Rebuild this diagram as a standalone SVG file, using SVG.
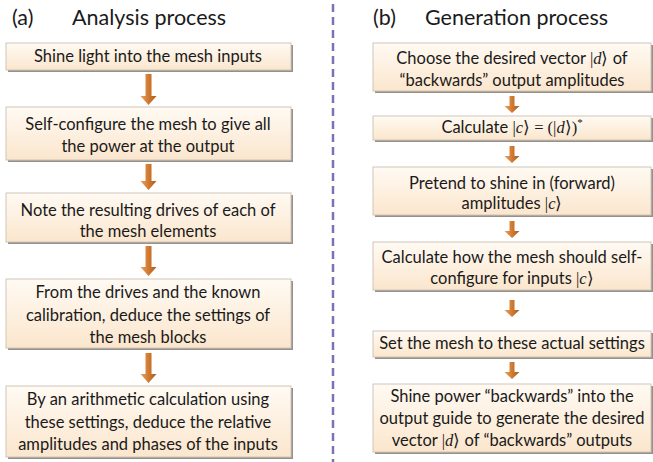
<svg xmlns="http://www.w3.org/2000/svg" width="653" height="462" viewBox="0 0 653 462">
  <defs>
    <linearGradient id="boxFill" x1="0" y1="0" x2="0" y2="1">
      <stop offset="0" stop-color="#FFFAF3"/>
      <stop offset="1" stop-color="#FBE6CD"/>
    </linearGradient>
    <linearGradient id="arrowFill" x1="0" y1="0" x2="1" y2="0">
      <stop offset="0" stop-color="#E8A060"/>
      <stop offset="0.5" stop-color="#D27A30"/>
      <stop offset="1" stop-color="#A85C1E"/>
    </linearGradient>
    <style>
      .shadow { fill: #96908A; }
      .box { fill: url(#boxFill); stroke: #CFC6BA; stroke-width: 1; }
      .t { font-family: Lato, "Open Sans", sans-serif; font-size: 16.5px; fill: #1A1A1A; text-anchor: middle; }
      .title { font-family: Lato, "Open Sans", sans-serif; font-size: 21.5px; fill: #1A1A1A; }
      .m { font-family: "Liberation Serif", serif; }
      .i { font-family: "Liberation Serif", serif; font-style: italic; }
      .arrow { fill: url(#arrowFill); }
      .divider { stroke: #7E72B6; stroke-width: 2.5; stroke-dasharray: 8 5; }
    </style>
  </defs>

  <rect width="653" height="462" fill="#FFFFFF"/>

  <!-- column titles -->
  <text class="title" x="12" y="25">(a)</text>
  <text class="title" x="72" y="25">Analysis process</text>
  <text class="title" x="373" y="25">(b)</text>
  <text class="title" x="425" y="25">Generation process</text>

  <!-- dashed divider between the two columns -->
  <line class="divider" x1="333" y1="4" x2="333" y2="462"/>

  <!-- (a) analysis process -->
  <g id="a1">
    <rect class="shadow" x="8" y="45" width="285" height="27"/>
    <rect class="box" x="6" y="43" width="285" height="27"/>
    <text class="t" x="148" y="62">Shine light into the mesh inputs</text>
  </g>
  <g id="a2">
    <rect class="shadow" x="8" y="109" width="285" height="53"/>
    <rect class="box" x="6" y="107" width="285" height="53"/>
    <text class="t" x="148" y="130">Self-configure the mesh to give all</text>
    <text class="t" x="148" y="152">the power at the output</text>
  </g>
  <g id="a3">
    <rect class="shadow" x="8" y="195" width="285" height="49"/>
    <rect class="box" x="6" y="193" width="285" height="49"/>
    <text class="t" x="148" y="216">Note the resulting drives of each of</text>
    <text class="t" x="148" y="237">the mesh elements</text>
  </g>
  <g id="a4">
    <rect class="shadow" x="8" y="281" width="285" height="69"/>
    <rect class="box" x="6" y="279" width="285" height="69"/>
    <text class="t" x="148" y="298">From the drives and the known</text>
    <text class="t" x="148" y="321">calibration, deduce the settings of</text>
    <text class="t" x="148" y="343">the mesh blocks</text>
  </g>
  <g id="a5">
    <rect class="shadow" x="8" y="388" width="285" height="71"/>
    <rect class="box" x="6" y="386" width="285" height="71"/>
    <text class="t" x="148" y="405">By an arithmetic calculation using</text>
    <text class="t" x="148" y="428">these settings, deduce the relative</text>
    <text class="t" x="148" y="450">amplitudes and phases of the inputs</text>
  </g>

  <!-- (b) generation process -->
  <g id="b1">
    <rect class="shadow" x="375" y="45" width="278" height="48"/>
    <rect class="box" x="373" y="43" width="278" height="48"/>
    <text class="t" x="512" y="64">Choose the desired vector <tspan class="m">|</tspan><tspan class="i">d</tspan><tspan class="m">⟩</tspan> of</text>
    <text class="t" x="512" y="86">“backwards” output amplitudes</text>
  </g>
  <g id="b2">
    <rect class="shadow" x="375" y="118" width="278" height="24"/>
    <rect class="box" x="373" y="116" width="278" height="24"/>
    <text class="t" x="512" y="133">Calculate <tspan class="m">|</tspan><tspan class="i">c</tspan><tspan class="m">⟩ = (|</tspan><tspan class="i">d</tspan><tspan class="m">⟩)</tspan><tspan class="m" font-size="11" dy="-7">*</tspan></text>
  </g>
  <g id="b3">
    <rect class="shadow" x="375" y="169" width="278" height="48"/>
    <rect class="box" x="373" y="167" width="278" height="48"/>
    <text class="t" x="512" y="189">Pretend to shine in (forward)</text>
    <text class="t" x="512" y="209">amplitudes <tspan class="m">|</tspan><tspan class="i">c</tspan><tspan class="m">⟩</tspan></text>
  </g>
  <g id="b4">
    <rect class="shadow" x="375" y="244" width="278" height="48"/>
    <rect class="box" x="373" y="242" width="278" height="48"/>
    <text class="t" x="512" y="263">Calculate how the mesh should self-</text>
    <text class="t" x="512" y="284">configure for inputs <tspan class="m">|</tspan><tspan class="i">c</tspan><tspan class="m">⟩</tspan></text>
  </g>
  <g id="b5">
    <rect class="shadow" x="375" y="333" width="278" height="26"/>
    <rect class="box" x="373" y="331" width="278" height="26"/>
    <text class="t" x="512" y="349">Set the mesh to these actual settings</text>
  </g>
  <g id="b6">
    <rect class="shadow" x="375" y="386" width="278" height="68"/>
    <rect class="box" x="373" y="384" width="278" height="68"/>
    <text class="t" x="512" y="402">Shine power “backwards” into the</text>
    <text class="t" x="512" y="424">output guide to generate the desired</text>
    <text class="t" x="512" y="446">vector <tspan class="m">|</tspan><tspan class="i">d</tspan><tspan class="m">⟩</tspan> of “backwards” outputs</text>
  </g>

  <!-- connectors: block arrows between successive steps -->
  <g id="connectors">
    <path class="arrow" d="M145.5 74 h6 v22 h5 l-8 9 l-8 -9 h5 z"/>
    <path class="arrow" d="M145.5 164 h6 v17 h5 l-8 9 l-8 -9 h5 z"/>
    <path class="arrow" d="M145.5 246 h6 v21 h5 l-8 9 l-8 -9 h5 z"/>
    <path class="arrow" d="M145.5 353 h6 v21 h5 l-8 9 l-8 -9 h5 z"/>

    <path class="arrow" d="M509.5 96 h5 v10 h5 l-7.5 7 l-7.5 -7 h5 z"/>
    <path class="arrow" d="M509.5 146 h5 v10 h5 l-7.5 7 l-7.5 -7 h5 z"/>
    <path class="arrow" d="M509.5 221 h5 v10 h5 l-7.5 7 l-7.5 -7 h5 z"/>
    <path class="arrow" d="M509.5 300 h5 v10 h5 l-7.5 7 l-7.5 -7 h5 z"/>
    <path class="arrow" d="M509.5 362 h5 v10 h5 l-7.5 7 l-7.5 -7 h5 z"/>
  </g>
</svg>
